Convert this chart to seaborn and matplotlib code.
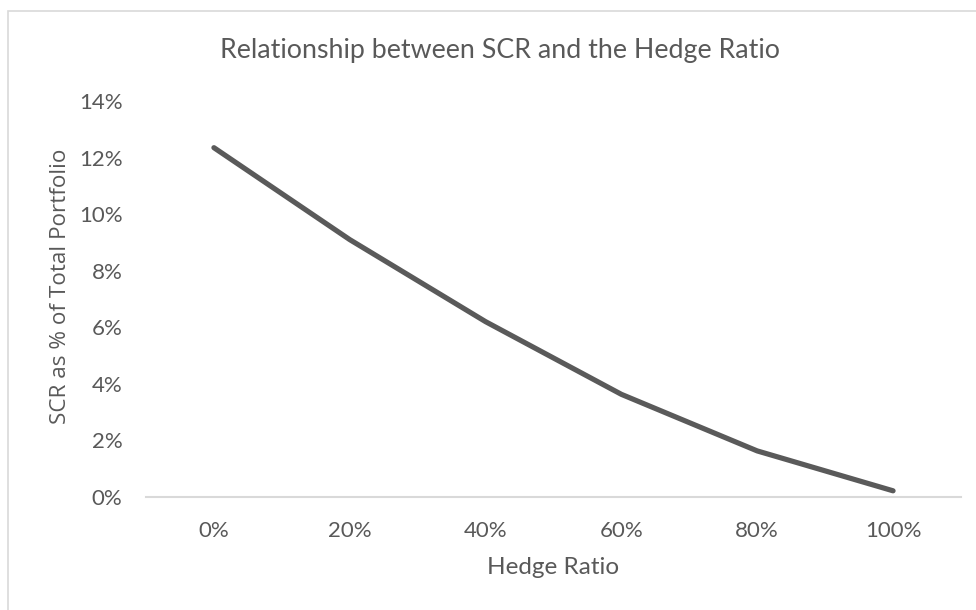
import matplotlib
matplotlib.use("Agg")
import matplotlib.pyplot as plt
import matplotlib.patches as mpatches
from matplotlib.ticker import FuncFormatter
import seaborn as sns
import pandas as pd

# Data
hedge_ratio = ["0%", "20%", "40%", "60%", "80%", "100%"]
scr_pct = [12.35, 9.1, 6.2, 3.63, 1.63, 0.22]

df = pd.DataFrame({"hedge": hedge_ratio, "scr": scr_pct})

sns.set_style("white")
plt.rcParams["font.family"] = ["Lato", "DejaVu Sans"]

text_col = "#595959"
line_col = "#5a5a5a"
grid_col = "#d9d9d9"

fig = plt.figure(figsize=(9.76, 6.1), dpi=100)
ax = fig.add_axes([0.1496, 0.1852, 0.8350, 0.6492])

sns.lineplot(data=df, x="hedge", y="scr", ax=ax, color=line_col,
             linewidth=3.75, solid_capstyle="round", solid_joinstyle="round",
             sort=False)

ax.set_xlim(-0.5, len(hedge_ratio) - 0.5)
ax.set_ylim(0, 14)
ax.set_yticks(range(0, 15, 2))
ax.yaxis.set_major_formatter(FuncFormatter(lambda v, p: f"{v:.0f}%"))

for s in ["top", "right", "left"]:
    ax.spines[s].set_visible(False)
ax.spines["bottom"].set_color(grid_col)
ax.spines["bottom"].set_linewidth(1.5)

ax.tick_params(axis="both", length=0, labelsize=16, labelcolor=text_col)
ax.tick_params(axis="y", pad=17)
ax.tick_params(axis="x", pad=17)

ax.set_xlabel("Hedge Ratio", fontsize=17.5, color=text_col, labelpad=12)
ax.set_ylabel("SCR as % of Total Portfolio", fontsize=16.2, color=text_col,
              family=["Open Sans", "DejaVu Sans"])
ax.yaxis.set_label_coords(-0.092, 0.533)
ax.set_title("Relationship between SCR and the Hedge Ratio", fontsize=19.3,
             color=text_col, pad=31, x=0.434)

# chart area border
fig.patches.append(mpatches.Rectangle((0.008, -0.01), 1.0, 0.992,
                                      transform=fig.transFigure, fill=False,
                                      edgecolor=grid_col, linewidth=1.2))

fig.savefig("out.png", dpi=100, facecolor="white")
